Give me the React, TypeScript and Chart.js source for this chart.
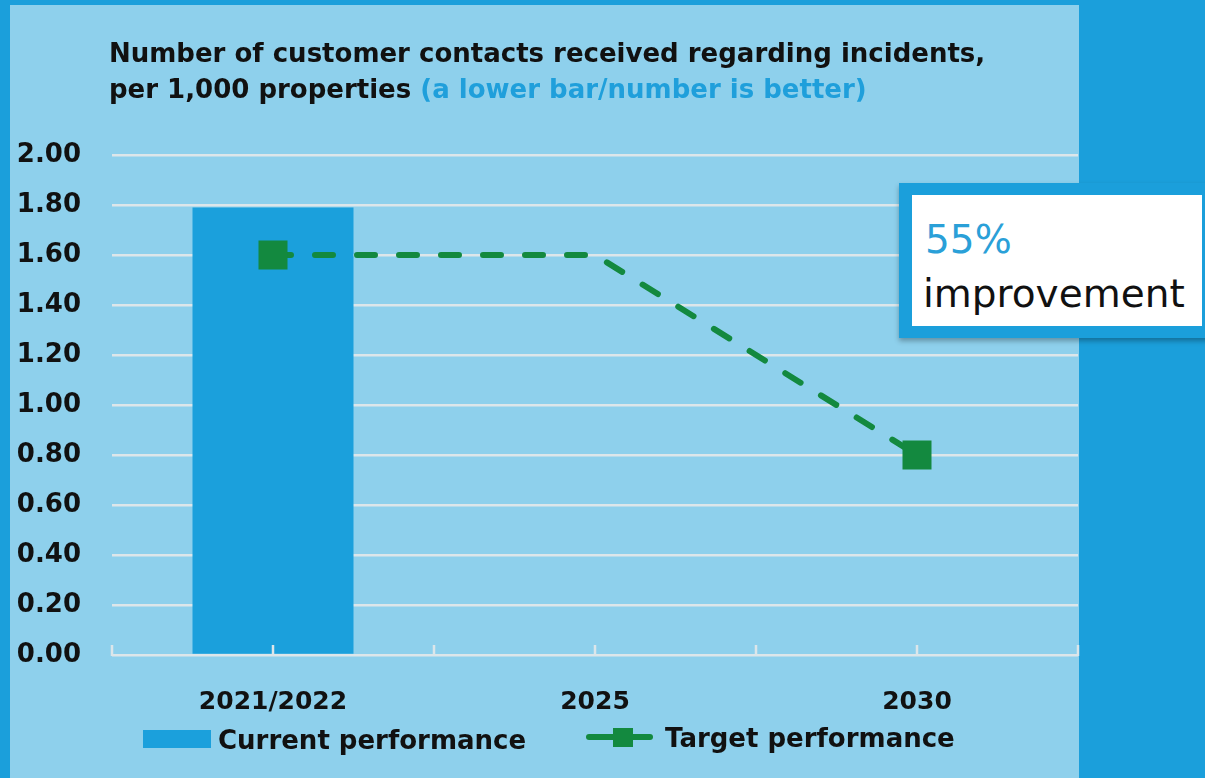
import React, { useEffect, useRef } from 'react';
import { Chart, registerables } from 'chart.js';

Chart.register(...registerables);

// ---- data ----
const categories = ['2021/2022', '2025', '2030'];
const currentPerformance = [1.79, null, null];
const targetPerformance = [1.6, 1.6, 0.8];
const targetMarkerShown = [true, false, true];
const yMin = 0;
const yMax = 2;
const yStep = 0.2;
const legendLabels = ['Current performance', 'Target performance'];
const titleLine1 = 'Number of customer contacts received regarding incidents,';
const titleLine2 = 'per 1,000 properties';
const titleNote = '(a lower bar/number is better)';
const calloutValue = '55%';
const calloutText = 'improvement';

// ---- style ----
const FONT = '"DejaVu Sans", "Open Sans", sans-serif';
const DARK = '#1b9fdb';
const LIGHT = '#8ed0ec';
const BAR_BLUE = '#1ba0dc';
const GREEN = '#13893f';
const GRID = '#dce6ea';
const TEXT = '#111111';

const axisTicksPlugin = {
  id: 'axisTicks',
  afterDatasetsDraw(chart: any) {
    const xs = chart.scales.x;
    const { ctx, chartArea } = chart;
    const n = chart.data.labels.length;
    const centers: number[] = [];
    for (let i = 0; i < n; i++) centers.push(xs.getPixelForValue(i));
    const bounds: number[] = [chartArea.left];
    for (let i = 0; i < n - 1; i++) bounds.push((centers[i] + centers[i + 1]) / 2);
    bounds.push(chartArea.right);
    ctx.save();
    ctx.strokeStyle = GRID;
    ctx.lineWidth = 2.5;
    [...centers, ...bounds].forEach((px) => {
      ctx.beginPath();
      ctx.moveTo(px, chartArea.bottom + 1);
      ctx.lineTo(px, chartArea.bottom - 10);
      ctx.stroke();
    });
    ctx.restore();
  },
};

export default function App() {
  const canvasRef = useRef<HTMLCanvasElement | null>(null);

  useEffect(() => {
    if (!canvasRef.current) return;
    const chart = new Chart(canvasRef.current, {
      type: 'bar',
      data: {
        labels: categories,
        datasets: [
          {
            type: 'line',
            label: legendLabels[1],
            data: targetPerformance,
            borderColor: GREEN,
            backgroundColor: GREEN,
            borderWidth: 6,
            borderDash: [18, 24],
            borderCapStyle: 'round',
            pointStyle: 'rect',
            pointRadius: targetMarkerShown.map((s) => (s ? 20.5 : 0)),
            pointHoverRadius: targetMarkerShown.map((s) => (s ? 20.5 : 0)),
            pointBackgroundColor: GREEN,
            pointBorderWidth: 0,
            tension: 0,
            order: 0,
          } as any,
          {
            type: 'bar',
            label: legendLabels[0],
            data: currentPerformance,
            backgroundColor: BAR_BLUE,
            barPercentage: 1,
            categoryPercentage: 0.5,
            order: 1,
          } as any,
        ],
      },
      options: {
        animation: false,
        responsive: false,
        devicePixelRatio: 1,
        layout: { padding: { left: 0, right: 127, top: 155, bottom: 63 } },
        plugins: {
          legend: { display: false },
          tooltip: { enabled: false },
        },
        scales: {
          x: {
            type: 'category',
            offset: true,
            grid: { display: false },
            border: { display: false },
            ticks: {
              color: TEXT,
              font: { family: FONT, size: 25, weight: 'bold' },
              padding: 24,
            },
            afterFit: (s: any) => {
              s.height = 60;
            },
          },
          y: {
            min: yMin,
            max: yMax,
            ticks: {
              stepSize: yStep,
              color: TEXT,
              font: { family: FONT, size: 26, weight: 'bold' },
              padding: 31,
              callback: (v: any) => Number(v).toFixed(2),
            },
            grid: { color: GRID, lineWidth: 2.5, drawTicks: false },
            border: { display: false },
            afterFit: (s: any) => {
              s.width = 112;
            },
          },
        },
      } as any,
      plugins: [axisTicksPlugin],
    });
    return () => chart.destroy();
  }, []);

  const abs = (o: React.CSSProperties): React.CSSProperties => ({ position: 'absolute', ...o });

  return (
    <div
      style={abs({
        left: 0,
        top: 0,
        width: 1205,
        height: 778,
        background: DARK,
        overflow: 'hidden',
        fontFamily: FONT,
        color: TEXT,
        whiteSpace: 'nowrap',
      })}
    >
      <div style={abs({ left: 10, top: 5, width: 1069, height: 773, background: LIGHT })} />
      <canvas ref={canvasRef} width={1205} height={778} style={abs({ left: 0, top: 0, width: 1205, height: 778 })} />

      <div style={abs({ left: 109, top: 40, fontSize: 26, lineHeight: '26px', fontWeight: 'bold' })}>{titleLine1}</div>
      <div style={abs({ left: 109, top: 76, fontSize: 26, lineHeight: '26px', fontWeight: 'bold' })}>
        {titleLine2} <span style={{ color: '#1f9fdb' }}>{titleNote}</span>
      </div>

      <div style={abs({ left: 143, top: 730, width: 68, height: 18, background: BAR_BLUE })} />
      <div style={abs({ left: 218, top: 727, fontSize: 26, lineHeight: '26px', fontWeight: 'bold' })}>{legendLabels[0]}</div>
      <div style={abs({ left: 586, top: 734, width: 67, height: 6, borderRadius: 3, background: GREEN })} />
      <div style={abs({ left: 613, top: 728, width: 20, height: 19, background: GREEN })} />
      <div style={abs({ left: 665, top: 725, fontSize: 26, lineHeight: '26px', fontWeight: 'bold' })}>{legendLabels[1]}</div>

      <div
        style={abs({
          left: 899,
          top: 183,
          width: 330,
          height: 155,
          background: DARK,
          boxShadow: '0 3px 5px rgba(0,0,0,0.3)',
        })}
      />
      <div style={abs({ left: 912, top: 195, width: 290, height: 131, background: '#ffffff' })} />
      <div style={abs({ left: 925, top: 220, fontSize: 39, lineHeight: '39px', color: '#2aa0d8' })}>{calloutValue}</div>
      <div style={abs({ left: 923, top: 274, fontSize: 39, lineHeight: '39px', color: TEXT })}>{calloutText}</div>
    </div>
  );
}
